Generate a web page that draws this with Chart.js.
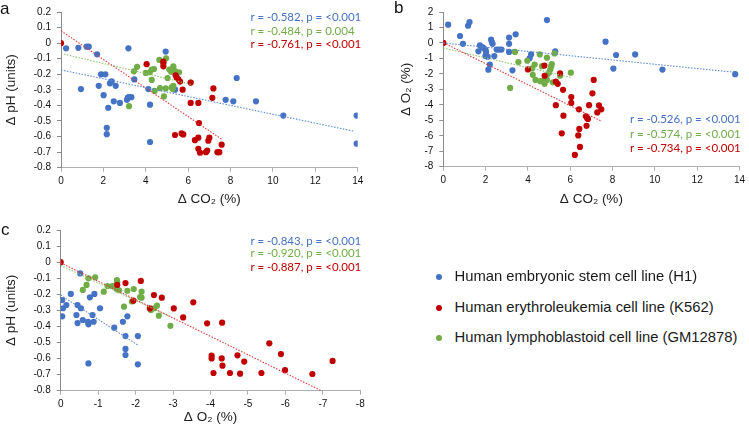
<!DOCTYPE html>
<html>
<head>
<meta charset="utf-8">
<script src="https://cdn.jsdelivr.net/npm/chart.js@4"></script>
<style>
  html, body { margin: 0; padding: 0; background: #fff; }
  #wrap { position: relative; width: 749px; height: 428px; overflow: hidden; font-family: "Liberation Sans", Arial, sans-serif; }
  .box { position: absolute; }
  .letter { position: absolute; font-size: 17px; color: #111; line-height: 17px; }
  .ann { position: absolute; font-family: Lato, "Open Sans", sans-serif; font-size: 11.5px; line-height: 14px; white-space: nowrap; }
  .leg { position: absolute; font-size: 14.8px; color: #1a1a1a; line-height: 17px; white-space: nowrap; }
  .dot { position: absolute; width: 6px; height: 6px; border-radius: 50%; }
</style>
</head>
<body>
<div id="wrap">
  <div class="box" style="left:0;top:0;width:370px;height:210px;"><canvas id="ca"></canvas></div>
  <div class="box" style="left:380px;top:0;width:369px;height:210px;"><canvas id="cb"></canvas></div>
  <div class="box" style="left:0;top:217px;width:370px;height:211px;"><canvas id="cc"></canvas></div>
</div>
<script>
// ---------------- DATA ----------------
const colBlue = '#4472C4', colRed = '#C00000', colGreen = '#70AD47';
const seriesNames = ['Human embryonic stem cell line (H1)', 'Human erythroleukemia cell line (K562)', 'Human lymphoblastoid cell line (GM12878)'];

// Panel a: ΔCO2 (%) vs ΔpH (units)
const aBlue = [[0.24,-0.033],[0.82,-0.03],[1.21,-0.023],[1.31,-0.023],[1.70,-0.072],[0.94,-0.295],[1.89,-0.20],[2.09,-0.20],
  [1.78,-0.274],[2.01,-0.334],[2.23,-0.415],[2.16,-0.544],[2.16,-0.585],[2.31,-0.258],[2.39,-0.245],[2.58,-0.274],
  [2.49,-0.374],[2.78,-0.384],[3.11,-0.364],[3.16,-0.349],[3.21,-0.347],[3.32,-0.347],[3.18,-0.033],[3.46,-0.233],
  [4.12,-0.295],[4.2,-0.395],[4.2,-0.635],[4.94,-0.054],[5.38,-0.299],[7.77,-0.364],[8.13,-0.374],[8.29,-0.224],
  [9.2,-0.374],[10.49,-0.465],[13.95,-0.465],[13.95,-0.646]];
const aRed = [[0,0],[4.04,-0.135],[4.83,-0.118],[4.83,-0.128],[4.83,-0.149],[5.41,-0.207],[5.46,-0.222],[5.54,-0.232],
  [5.62,-0.247],[5.74,-0.299],[6.12,-0.253],[6.12,-0.384],[6.48,-0.384],[6.51,-0.513],[7.19,-0.291],[7.14,-0.351],
  [5.38,-0.59],[5.69,-0.58],[5.77,-0.586],[6.32,-0.623],[6.48,-0.607],[7.0,-0.607],[6.95,-0.627],[6.48,-0.679],
  [6.56,-0.704],[6.84,-0.70],[6.9,-0.69],[7.38,-0.70],[7.47,-0.70],[7.58,-0.652]];
const aGreen = [[3.21,-0.405],[3.44,-0.181],[3.59,-0.152],[4.0,-0.191],[4.19,-0.187],[4.28,-0.17],[4.39,-0.166],[4.28,-0.236],
  [4.42,-0.307],[4.64,-0.108],[4.67,-0.289],[4.86,-0.342],[4.94,-0.291],[4.96,-0.097],[4.83,-0.128],[5.03,-0.224],
  [5.11,-0.17],[5.2,-0.184],[5.22,-0.284],[5.27,-0.295],[5.3,-0.149],[5.3,-0.274],[5.38,-0.18],[5.57,-0.187],[6.12,-0.253]];
const aTrendBlue = [[0,-0.172],[13.8,-0.565]];
const aTrendRed = [[0,0.079],[7.58,-0.617]];
const aTrendGreen = [[0,-0.066],[6.12,-0.264]];
const aStats = ['r = -0.582, p = <0.001', 'r = -0.484, p = 0.004', 'r = -0.761, p = <0.001'];

// Panel b: ΔCO2 (%) vs ΔO2 (%)
const bBlue = [[0.23,1.18],[0.79,0.45],[0.93,-0.06],[1.17,1.11],[1.24,1.34],[1.66,-0.54],[1.73,-0.16],[1.84,-0.27],
  [1.9,-0.33],[1.99,-0.43],[2.02,-0.58],[1.99,-0.85],[2.1,-0.89],[2.13,-1.73],[2.2,-1.40],[2.26,0.21],[2.3,0.04],
  [2.33,-0.06],[2.41,-0.85],[2.52,-0.43],[2.64,-0.43],[2.75,-0.43],[3.11,0.35],[3.11,-0.06],[3.11,-0.58],[3.27,-1.77],
  [3.42,0.56],[4.08,-0.99],[4.15,-0.74],[4.9,1.48],[5.29,-0.54],[7.67,0.08],[8.04,-1.66],[8.17,-0.78],[9.07,-0.74],
  [10.36,-1.72],[13.8,-2.02]];
const bRed = [[0,0],[4.0,-1.71],[4.78,-1.46],[4.79,-2.12],[5.32,-2.5],[5.41,-2.64],[5.52,-1.96],[5.66,-3.03],[5.32,-4.02],
  [5.68,-4.7],[5.6,-5.84],[6.05,-3.5],[6.05,-3.88],[6.22,-7.24],[6.41,-4.29],[6.43,-5.56],[6.38,-5.98],[6.46,-6.72],
  [6.74,-4.74],[6.8,-4.87],[6.84,-4.91],[6.77,-5.36],[6.89,-4.02],[7.05,-3.26],[7.11,-2.39],[7.28,-4.49],[7.36,-4.04],
  [7.47,-4.29]];
const bGreen = [[3.16,-2.91],[3.39,-0.58],[3.55,-1.24],[3.97,-1.15],[4.2,-1.65],[4.23,-2.06],[4.32,-1.40],[4.36,-2.39],
  [4.59,-2.47],[4.56,-0.74],[4.67,-1.50],[4.74,-2.43],[4.79,-2.64],[4.9,-0.95],[4.9,-2.08],[4.9,-2.39],[5.0,-1.92],
  [5.06,-1.71],[5.1,-1.5],[5.13,-1.36],[5.18,-2.54],[5.26,-0.68],[5.52,-2.12],[6.03,-1.92]];
const bTrendBlue = [[0,0.0],[13.8,-1.9]];
const bTrendRed = [[0,0.02],[7.5,-5.07]];
const bTrendGreen = [[0,-0.33],[6.03,-2.23]];
const bStats = ['r = -0.526, p = <0.001', 'r = -0.574, p = <0.001', 'r = -0.734, p = <0.001'];

// Panel c: ΔO2 (%) vs ΔpH (units)
const cBlue = [[-0.04,-0.236],[-0.04,-0.337],[-0.06,-0.287],[-0.15,-0.267],[-0.27,-0.198],[-0.52,-0.07],[-0.42,-0.329],
  [-0.45,-0.267],[-0.54,-0.287],[-0.45,-0.379],[-0.59,-0.36],[-0.73,-0.371],[-0.74,-0.387],[-0.74,-0.63],[-0.78,-0.219],
  [-0.85,-0.329],[-0.88,-0.371],[-0.9,-0.198],[-1.05,-0.287],[-1.43,-0.408],[-1.66,-0.371],[-1.78,-0.337],[-1.73,-0.46],
  [-1.73,-0.54],[-1.73,-0.578],[-2.06,-0.46],[-2.06,-0.636]];
const cRed = [[0,0],[-1.51,-0.142],[-1.73,-0.13],[-2.14,-0.117],[-1.94,-0.24],[-2.38,-0.288],[-2.49,-0.205],[-2.7,-0.221],
  [-3.02,-0.288],[-3.27,-0.344],[-3.54,-0.25],[-3.91,-0.381],[-4.31,-0.377],[-4.03,-0.582],[-4.03,-0.599],[-4.3,-0.599],
  [-4.32,-0.644],[-4.08,-0.69],[-4.52,-0.69],[-4.79,-0.694],[-4.72,-0.58],[-4.9,-0.619],[-5.36,-0.69],[-5.57,-0.505],
  [-5.88,-0.572],[-5.99,-0.672],[-6.72,-0.696],[-7.26,-0.615]];
const cGreen = [[-0.59,-0.173],[-0.69,-0.142],[-0.74,-0.101],[-0.92,-0.094],[-1.15,-0.184],[-1.25,-0.149],[-1.38,-0.149],
  [-1.43,-0.149],[-1.5,-0.111],[-1.51,-0.125],[-1.5,-0.169],[-1.56,-0.175],[-1.69,-0.277],[-1.78,-0.178],[-1.95,-0.167],
  [-2.12,-0.217],[-2.16,-0.184],[-2.16,-0.221],[-1.9,-0.245],[-2.41,-0.298],[-2.5,-0.287],[-2.57,-0.271],[-2.62,-0.333],
  [-2.93,-0.396]];
const cTrendBlue = [[0,-0.205],[-2.06,-0.516]];
const cTrendRed = [[0,-0.004],[-7.26,-0.835]];
const cTrendGreen = [[0,-0.02],[-2.93,-0.34]];
const cStats = ['r = -0.843, p = <0.001', 'r = -0.920, p = <0.001', 'r = -0.887, p = <0.001'];

// ---------------- HELPERS ----------------
const toXY = arr => arr.map(p => ({x: p[0], y: p[1]}));
function pts(data, color, order) {
  return {type: 'scatter', data: toXY(data), backgroundColor: color, borderWidth: 0, pointRadius: 3.1, pointHoverRadius: 3.1, order: order};
}
function trend(data, color) {
  return {type: 'line', data: toXY(data), borderColor: color, borderWidth: 1.1, borderDash: [1.5, 1.5], pointRadius: 0, fill: false, showLine: true, order: 0, tension: 0};
}
const fmt1 = v => { const r = Math.round(v * 10) / 10; return (r === 0 ? '0' : String(r)); };
const fmt0 = v => { const r = Math.round(v); return (r === 0 ? '0' : String(r)); };

function makeChart(id, o) {
  const font = {family: '"Liberation Sans", Arial, sans-serif', size: 10};
  new Chart(document.getElementById(id), {
    data: {datasets: [
      trend(o.tb, '#5a8ad6'), trend(o.tr, '#e0393e'), trend(o.tg, '#8cc46a'),
      pts(o.red, colRed, 1), pts(o.green, colGreen, 2), pts(o.blue, colBlue, 3)
    ]},
    options: {
      responsive: true, maintainAspectRatio: false, animation: false,
      events: [],
      layout: {autoPadding: false, padding: o.pad},
      plugins: {legend: {display: false}, tooltip: {enabled: false}},
      scales: {
        x: {
          type: 'linear', min: o.xmin, max: o.xmax, reverse: !!o.xrev,
          ticks: {stepSize: o.xstep, color: '#111', font: font, padding: 4, callback: fmt0, maxRotation: 0, autoSkip: false},
          grid: {drawOnChartArea: false, drawTicks: true, tickLength: 4, color: '#b0b0b0'},
          border: {display: true, color: '#b0b0b0', width: 1},
          title: {display: true, text: o.xtitle, color: '#222', font: {family: font.family, size: 13.5}, padding: {top: 2, bottom: 3}},
          afterFit: s => { s.height = o.xh; }
        },
        y: {
          type: 'linear', min: o.ymin, max: o.ymax,
          ticks: {stepSize: o.ystep, color: '#111', font: font, padding: 6, callback: o.yfmt, autoSkip: false},
          grid: {drawOnChartArea: false, drawTicks: true, tickLength: 4, color: '#8c8c8c'},
          border: {display: true, color: '#8c8c8c', width: 1},
          title: {display: true, text: o.ytitle, color: '#222', font: {family: font.family, size: 13.5}, padding: {top: 3, bottom: 2}},
          afterFit: s => { s.width = o.yw; }
        }
      }
    }
  });
}

makeChart('ca', {blue: aBlue, red: aRed, green: aGreen, tb: aTrendBlue, tr: aTrendRed, tg: aTrendGreen,
  pad: {left: 0, right: 12.3, top: 7.3, bottom: 0}, xh: 42.3, yw: 61,
  xmin: 0, xmax: 14, xstep: 2, ymin: -0.8, ymax: 0.2, ystep: 0.1, yfmt: fmt1,
  xtitle: 'Δ CO₂ (%)', ytitle: 'Δ pH (units)'});
makeChart('cb', {blue: bBlue, red: bRed, green: bGreen, tb: bTrendBlue, tr: bTrendRed, tg: bTrendGreen,
  pad: {left: 15, right: 5.7, top: 5, bottom: 0}, xh: 43.3, yw: 48.3,
  xmin: 0, xmax: 14, xstep: 2, ymin: -8, ymax: 2, ystep: 1, yfmt: fmt0,
  xtitle: 'Δ CO₂ (%)', ytitle: 'Δ O₂ (%)'});
makeChart('cc', {blue: cBlue, red: cRed, green: cGreen, tb: cTrendBlue, tr: cTrendRed, tg: cTrendGreen,
  pad: {left: 0, right: 9.7, top: 13, bottom: 0}, xh: 37.3, yw: 60.7,
  xmin: -8, xmax: 0, xrev: true, xstep: 1, ymin: -0.8, ymax: 0.2, ystep: 0.1, yfmt: fmt1,
  xtitle: 'Δ O₂ (%)', ytitle: 'Δ pH (units)'});

// ---------------- TEXT OVERLAYS ----------------
const wrap = document.getElementById('wrap');
function addDiv(cls, text, css) {
  const d = document.createElement('div'); d.className = cls; d.textContent = text;
  Object.assign(d.style, css); wrap.appendChild(d); return d;
}
addDiv('letter', 'a', {left: '0px', top: '0px'});
addDiv('letter', 'b', {left: '394px', top: '-1px'});
addDiv('letter', 'c', {left: '1px', top: '221px'});

const statColors = [colBlue, '#70AD47', colRed];
function stats(list, left, tops) {
  list.forEach((t, i) => addDiv('ann', t, {left: left + 'px', top: (tops[i] - 7) + 'px', color: statColors[i]}));
}
stats(aStats, 250.5, [16.7, 30.7, 44.3]);
stats(bStats, 630, [119.3, 134, 147.7]);
stats(cStats, 250.5, [240.7, 253.3, 267.3]);

const legColors = [colBlue, colRed, colGreen];
const legY = [276.7, 307.7, 337.7];
seriesNames.forEach((n, i) => {
  const d = document.createElement('div'); d.className = 'dot';
  Object.assign(d.style, {left: '435.5px', top: (legY[i] - 3) + 'px', background: legColors[i]});
  wrap.appendChild(d);
  addDiv('leg', n, {left: '454.5px', top: (legY[i] - 8.5) + 'px'});
});
</script>
</body>
</html>
